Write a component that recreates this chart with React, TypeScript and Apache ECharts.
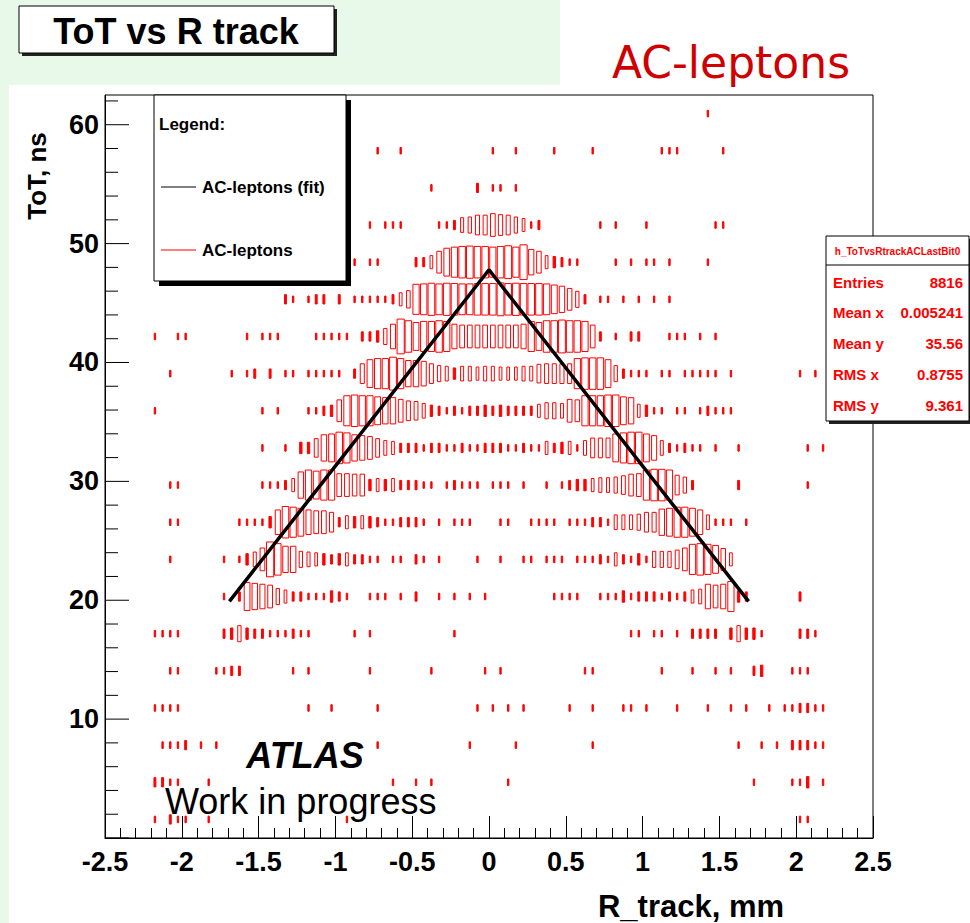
import React, { useEffect, useRef } from "react";
import * as echarts from "echarts";

// Histogram binning: R_track in 0.05 mm bins from -2.5 mm, ToT in 3.125 ns bins from 0.
const R_MIN = -2.5;
const R_BIN = 0.05;
const TOT_BIN = 3.125;
// Content that would fill a whole cell (box side scales with sqrt of content).
const Z_MAX = 32;

// Each ToT row: [R bin index, entries]
const row00 = [[6,1],[8,2],[9,1],[10,1],[13,1],[31,1],[90,1],[91,1]];
const row01 = [[6,2],[7,2],[8,1],[9,1],[13,1],[37,1],[40,1],[42,1],[52,1],[84,1],[89,1],[90,1],[91,3],[93,1]];
const row02 = [[7,1],[8,1],[9,1],[10,2],[12,1],[14,1],[35,1],[47,1],[53,1],[63,1],[82,1],[85,1],[87,1],[89,2],[90,2],[91,2],[92,1],[93,1]];
const row03 = [[6,1],[7,1],[8,1],[9,1],[26,1],[29,1],[35,1],[48,1],[50,1],[52,1],[54,1],[60,1],[63,1],[67,1],[68,1],[70,1],[74,1],[78,1],[81,1],[83,1],[86,1],[88,1],[89,1],[90,2],[91,2],[92,1],[93,1]];
const row04 = [[8,1],[9,1],[14,1],[15,1],[16,2],[17,2],[24,1],[26,1],[34,1],[42,1],[49,1],[51,1],[62,1],[63,1],[72,1],[76,1],[79,1],[81,1],[84,2],[85,3],[89,1],[90,1],[91,1]];
const row05 = [[6,1],[7,1],[8,1],[9,1],[15,2],[16,3],[17,6],[18,3],[19,2],[20,2],[21,1],[22,1],[23,1],[24,2],[25,1],[26,1],[32,1],[34,1],[45,1],[68,1],[69,1],[71,1],[72,1],[74,1],[76,2],[77,2],[78,2],[79,2],[81,3],[82,6],[83,3],[84,3],[85,1],[90,2],[91,2],[92,1]];
const row06 = [[15,1],[17,2],[18,18],[19,16],[20,14],[21,12],[22,6],[23,4],[24,2],[25,2],[26,1],[27,1],[28,1],[29,3],[30,2],[31,1],[34,1],[35,1],[36,1],[38,1],[40,2],[43,1],[45,1],[47,1],[49,1],[58,1],[59,1],[60,1],[61,1],[64,1],[65,1],[66,1],[67,3],[68,1],[69,2],[70,2],[71,2],[72,1],[73,2],[74,1],[75,2],[76,4],[77,5],[78,14],[79,12],[80,14],[81,21],[82,3],[83,2],[90,2]];
const row07 = [[8,1],[15,1],[17,1],[18,3],[19,5],[20,12],[21,28],[22,23],[23,16],[24,16],[25,6],[26,5],[27,4],[28,3],[29,2],[30,3],[31,4],[32,2],[33,2],[34,1],[35,1],[37,1],[38,1],[40,2],[41,1],[43,1],[48,1],[51,1],[54,1],[55,1],[57,1],[58,1],[59,1],[61,1],[62,1],[63,1],[64,2],[65,1],[66,4],[67,2],[68,1],[69,3],[70,1],[71,6],[72,6],[73,6],[74,8],[75,12],[76,21],[77,23],[78,21],[79,18],[80,11],[81,4]];
const row08 = [[8,1],[9,1],[17,1],[18,1],[19,1],[20,1],[21,3],[22,14],[23,23],[24,21],[25,18],[26,14],[27,12],[28,12],[29,9],[30,2],[31,4],[32,3],[33,4],[34,3],[35,2],[36,1],[37,1],[38,2],[39,2],[40,2],[41,1],[43,1],[45,1],[46,1],[47,1],[51,1],[52,1],[55,1],[56,1],[57,1],[58,1],[60,1],[61,1],[62,1],[63,2],[64,2],[65,1],[66,5],[67,5],[68,5],[69,6],[70,9],[71,9],[72,16],[73,18],[74,21],[75,21],[76,18],[77,14],[78,5],[79,1],[80,1],[81,1],[83,1]];
const row09 = [[8,1],[9,1],[20,1],[21,1],[22,1],[23,2],[24,4],[25,16],[26,21],[27,18],[28,21],[29,21],[30,12],[31,12],[32,11],[33,11],[34,3],[35,4],[36,3],[37,4],[38,2],[39,2],[40,2],[41,1],[42,1],[44,1],[45,2],[46,1],[47,1],[48,1],[50,1],[51,1],[52,1],[54,1],[57,1],[59,1],[60,2],[61,3],[62,3],[63,4],[64,5],[65,5],[66,6],[67,8],[68,11],[69,12],[70,21],[71,23],[72,23],[73,21],[74,9],[75,6],[76,2],[82,2],[91,1]];
const row10 = [[20,1],[23,1],[25,3],[26,3],[27,8],[28,16],[29,18],[30,23],[31,21],[32,16],[33,14],[34,12],[35,8],[36,5],[37,4],[38,2],[39,2],[40,2],[41,1],[42,2],[43,2],[44,1],[45,1],[46,2],[47,1],[48,1],[49,2],[50,2],[51,2],[52,1],[53,1],[54,2],[55,1],[56,1],[57,4],[58,2],[59,3],[60,4],[61,1],[62,5],[63,9],[64,9],[65,9],[66,18],[67,21],[68,23],[69,23],[70,18],[71,14],[72,5],[73,2],[74,1],[75,2],[76,1],[77,1],[79,1],[82,1],[91,1],[93,1]];
const row11 = [[6,1],[20,1],[22,1],[26,1],[27,1],[28,2],[29,3],[30,11],[31,21],[32,23],[33,21],[34,21],[35,18],[36,16],[37,16],[38,12],[39,9],[40,8],[41,5],[42,3],[43,2],[44,1],[45,2],[46,1],[47,2],[48,2],[49,3],[50,2],[51,3],[52,2],[53,2],[54,2],[55,2],[56,4],[57,6],[58,6],[59,5],[60,12],[61,11],[62,21],[63,21],[64,21],[65,23],[66,23],[67,18],[68,16],[69,4],[70,3],[71,1],[72,1],[74,1],[75,1],[77,1],[78,2],[79,1],[80,1],[81,1]];
const row12 = [[8,1],[16,1],[18,1],[19,2],[21,2],[23,1],[24,1],[26,1],[27,1],[28,1],[29,1],[30,1],[32,2],[33,9],[34,18],[35,21],[36,21],[37,25],[38,21],[39,16],[40,16],[41,14],[42,9],[43,6],[44,5],[45,3],[46,5],[47,5],[48,4],[49,5],[50,5],[51,4],[52,4],[53,4],[54,5],[55,5],[56,8],[57,9],[58,9],[59,9],[60,9],[61,21],[62,23],[63,23],[64,23],[65,18],[66,6],[67,2],[68,1],[69,1],[70,1],[72,1],[73,1],[75,1],[76,1],[77,1],[78,1],[79,1],[81,1],[90,1],[92,1]];
const row13 = [[6,1],[9,1],[10,1],[18,1],[20,1],[21,1],[22,1],[27,1],[28,1],[29,1],[30,1],[31,1],[33,2],[34,2],[35,3],[36,6],[37,14],[38,28],[39,23],[40,18],[41,21],[42,21],[43,23],[44,21],[45,14],[46,12],[47,12],[48,12],[49,12],[50,12],[51,12],[52,12],[53,12],[54,14],[55,21],[56,18],[57,23],[58,23],[59,25],[60,23],[61,23],[62,21],[63,12],[64,2],[66,1],[68,2],[69,2],[73,1],[74,1],[75,1],[77,1],[79,1]];
const row14 = [[23,2],[24,1],[26,1],[27,2],[28,2],[30,2],[32,1],[33,1],[34,1],[35,1],[36,1],[37,2],[38,4],[39,7],[40,21],[41,22],[42,24],[43,22],[44,24],[45,23],[46,22],[47,22],[48,23],[49,23],[50,23],[51,25],[52,23],[53,24],[54,23],[55,23],[56,23],[57,22],[58,19],[59,16],[60,11],[61,6],[62,2],[64,1],[65,1],[67,1],[69,1],[71,1],[73,1]];
const row15 = [[32,1],[34,1],[35,1],[40,2],[41,2],[42,4],[43,11],[44,18],[45,21],[46,23],[47,24],[48,23],[49,23],[50,21],[51,23],[52,25],[53,21],[54,28],[55,15],[56,11],[57,4],[58,3],[59,2],[60,1],[61,1],[66,1],[68,1],[70,1],[71,1],[73,1],[78,1]];
const row16 = [[34,1],[36,1],[37,1],[38,1],[43,1],[44,1],[45,2],[46,5],[47,6],[48,9],[49,9],[50,12],[51,10],[52,9],[53,6],[54,4],[55,1],[56,2],[64,1],[66,1],[70,1],[79,1],[80,1]];
const row17 = [[42,1],[48,2],[50,1],[51,1],[53,1]];
const row18 = [[35,1],[38,1],[50,1],[53,1],[58,1],[63,1],[72,1],[73,1],[74,1],[80,1]];
const row19 = [[78,1]];

const totRows = [row00, row01, row02, row03, row04, row05, row06, row07, row08, row09,
  row10, row11, row12, row13, row14, row15, row16, row17, row18, row19];

// Fitted ToT(R) curve
const fitPoints = [[-1.69, 19.9], [0, 47.8], [1.69, 19.9]];

// ToT axis divisions (ns): primary every 10, secondary every 2
const totMajorTicks = [0, 10, 20, 30, 40, 50, 60];
const totMinorTicks = [2, 4, 6, 8, 12, 14, 16, 18, 22, 24, 26, 28, 32, 34, 36, 38, 42, 44, 46, 48, 52, 54, 56, 58, 62];

const statsTitle = "h_ToTvsRtrackACLastBit0";
const statsRows = [
  ["Entries", "8816"],
  ["Mean x", "0.005241"],
  ["Mean y", "35.56"],
  ["RMS x", "0.8755"],
  ["RMS y", "9.361"],
];

const legendEntries = [
  { label: "AC-leptons (fit)", color: "#000000" },
  { label: "AC-leptons", color: "#ff0000" },
];

const FONT = "'Liberation Sans', Arial, Helvetica, sans-serif";
const GREEN = "#e9f9e9";

export default function App() {
  const ref = useRef<HTMLDivElement>(null);

  useEffect(() => {
    if (!ref.current) return;
    const chart = echarts.init(ref.current, undefined, { renderer: "svg" });

    const boxData: number[][] = [];
    totRows.forEach((row, k) => {
      row.forEach(([i, c]) => {
        boxData.push([R_MIN + (i + 0.5) * R_BIN, (k + 0.5) * TOT_BIN, c]);
      });
    });

    // [ToT value, tick length in px]
    const yTickData = [
      ...totMajorTicks.map((v) => [R_MIN, v, 24]),
      ...totMinorTicks.map((v) => [R_MIN, v, 13]),
    ];

    const statsX = 826, statsY = 236, statsW = 143, statsH = 185;
    const legX = 154, legY = 95, legW = 192, legH = 186;

    const graphic: any[] = [
      // slide background around the canvas
      { type: "rect", z: -10, silent: true, shape: { x: 0, y: 0, width: 560, height: 85 }, style: { fill: GREEN } },
      { type: "rect", z: -10, silent: true, shape: { x: 0, y: 0, width: 9, height: 923 }, style: { fill: GREEN } },

      // title box
      { type: "rect", z: 50, shape: { x: 22, y: 9, width: 315, height: 47 }, style: { fill: "#222" } },
      { type: "rect", z: 51, shape: { x: 19, y: 6, width: 315, height: 47 }, style: { fill: "#fff", stroke: "#000", lineWidth: 1 } },
      { type: "text", z: 52, x: 176, y: 31, style: { text: "ToT vs R track", fontFamily: FONT, fontWeight: "bold", fontSize: 36, fill: "#000", align: "center", verticalAlign: "middle" } },

      // sample label
      { type: "text", z: 52, x: 731, y: 62, style: { text: "AC-leptons", fontFamily: "'Comic Sans MS', 'DejaVu Sans', sans-serif", fontSize: 44, fill: "#d00000", align: "center", verticalAlign: "middle" } },

      // legend box
      { type: "rect", z: 60, shape: { x: legX + 5, y: legY + 5, width: legW, height: legH }, style: { fill: "#000" } },
      { type: "rect", z: 61, shape: { x: legX, y: legY, width: legW, height: legH }, style: { fill: "#fff", stroke: "#000", lineWidth: 1 } },
      { type: "text", z: 62, x: 159, y: 124, style: { text: "Legend:", fontFamily: FONT, fontWeight: "bold", fontSize: 17, fill: "#000", align: "left", verticalAlign: "middle" } },
      ...legendEntries.flatMap((e, j) => {
        const y = 187 + j * 63;
        return [
          { type: "line", z: 62, shape: { x1: 161, y1: y, x2: 196, y2: y }, style: { stroke: e.color, lineWidth: 1 } },
          { type: "text", z: 62, x: 202, y, style: { text: e.label, fontFamily: FONT, fontWeight: "bold", fontSize: 17, fill: "#000", align: "left", verticalAlign: "middle" } },
        ];
      }),

      // statistics box
      { type: "rect", z: 60, shape: { x: statsX + 3, y: statsY + 3, width: statsW, height: statsH }, style: { fill: "#222" } },
      { type: "rect", z: 61, shape: { x: statsX, y: statsY, width: statsW, height: statsH }, style: { fill: "#fff", stroke: "#000", lineWidth: 1 } },
      { type: "line", z: 62, shape: { x1: statsX, y1: 265, x2: statsX + statsW, y2: 265 }, style: { stroke: "#000", lineWidth: 1 } },
      { type: "text", z: 62, x: statsX + statsW / 2, y: 251, style: { text: statsTitle, fontFamily: FONT, fontWeight: "bold", fontSize: 10, fill: "#ff0000", align: "center", verticalAlign: "middle" } },
      ...statsRows.flatMap(([k, v], j) => {
        const y = 282 + j * 30.8;
        return [
          { type: "text", z: 62, x: 833, y, style: { text: k, fontFamily: FONT, fontWeight: "bold", fontSize: 15, fill: "#ff0000", align: "left", verticalAlign: "middle" } },
          { type: "text", z: 62, x: 963, y, style: { text: v, fontFamily: FONT, fontWeight: "bold", fontSize: 15, fill: "#ff0000", align: "right", verticalAlign: "middle" } },
        ];
      }),

      // axis titles
      { type: "text", z: 52, x: 37, y: 176, rotation: Math.PI / 2, style: { text: "ToT, ns", fontFamily: FONT, fontWeight: "bold", fontSize: 26, fill: "#000", align: "center", verticalAlign: "middle" } },
      { type: "text", z: 52, x: 691, y: 906, style: { text: "R_track, mm", fontFamily: FONT, fontWeight: "bold", fontSize: 31, fill: "#000", align: "center", verticalAlign: "middle" } },

      // experiment tag
      { type: "text", z: 52, x: 305, y: 755, style: { text: "ATLAS", fontFamily: FONT, fontWeight: "bold", fontStyle: "italic", fontSize: 36, fill: "#000", align: "center", verticalAlign: "middle" } },
      { type: "text", z: 52, x: 165, y: 801, style: { text: "Work in progress", fontFamily: FONT, fontSize: 36, fill: "#000", align: "left", verticalAlign: "middle" } },
    ];

    const option: any = {
      animation: false,
      backgroundColor: "#ffffff",
      grid: { left: 105, top: 95, width: 768, height: 743, show: true, borderColor: "#000", borderWidth: 1, backgroundColor: "transparent" },
      xAxis: {
        type: "value", min: -2.5, max: 2.5, interval: 0.5, position: "bottom",
        axisLine: { show: true, onZero: false, lineStyle: { color: "#000", width: 1 } },
        axisTick: { show: true, inside: true, length: 22, lineStyle: { color: "#000" } },
        minorTick: { show: true, splitNumber: 5, length: 10, lineStyle: { color: "#000" } },
        splitLine: { show: false },
        axisLabel: { show: true, showMinLabel: true, showMaxLabel: true, margin: 10, fontFamily: FONT, fontWeight: "bold", fontSize: 27, color: "#000" },
      },
      yAxis: {
        type: "value", min: 0, max: 62.5, interval: 10, position: "left",
        axisLine: { show: true, onZero: false, lineStyle: { color: "#000", width: 1 } },
        axisTick: { show: false },
        minorTick: { show: false },
        splitLine: { show: false },
        axisLabel: { show: true, showMinLabel: false, showMaxLabel: false, margin: 6, fontFamily: FONT, fontWeight: "bold", fontSize: 27, color: "#000" },
      },
      series: [
        {
          type: "custom",
          name: "AC-leptons",
          data: boxData,
          renderItem: (params: any, api: any) => {
            const c = api.coord([api.value(0), api.value(1)]);
            const s = api.size([R_BIN, TOT_BIN]);
            const r = Math.sqrt(api.value(2) / Z_MAX);
            const w = s[0] * r;
            const h = s[1] * r;
            // boxes narrower than the pen collapse into a solid bar
            const solid = w < 2.5;
            return {
              type: "rect",
              shape: { x: c[0] - w / 2, y: c[1] - h / 2, width: w, height: h },
              style: { fill: solid ? "#ff0000" : "none", stroke: "#ff0000", lineWidth: 1 },
            };
          },
        },
        {
          // ToT axis tick marks, pointing into the frame
          type: "custom",
          name: "ToT ticks",
          silent: true,
          clip: false,
          data: yTickData,
          renderItem: (params: any, api: any) => {
            const p = api.coord([api.value(0), api.value(1)]);
            const len = api.value(2);
            return {
              type: "line",
              shape: { x1: p[0], y1: p[1], x2: p[0] + len, y2: p[1] },
              style: { stroke: "#000", lineWidth: 1 },
            };
          },
        },
        {
          type: "line",
          name: "AC-leptons (fit)",
          data: fitPoints,
          symbol: "none",
          z: 5,
          lineStyle: { color: "#000", width: 3.5 },
        },
      ],
      graphic,
    };

    chart.setOption(option);
    return () => chart.dispose();
  }, []);

  return (
    <div
      ref={ref}
      style={{ position: "fixed", left: 0, top: 0, width: 970, height: 923, background: "#fff" }}
    />
  );
}
